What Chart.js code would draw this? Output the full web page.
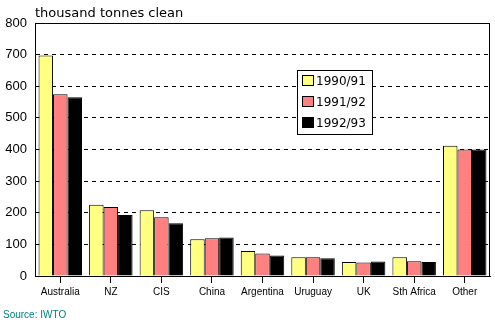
<!DOCTYPE html>
<html>
<head>
<meta charset="utf-8">
<script src="https://cdn.jsdelivr.net/npm/chart.js@4/dist/chart.umd.min.js"></script>
<style>
  html, body { margin: 0; padding: 0; background: #fff; }
  #wrap { width: 495px; height: 322px; }
</style>
</head>
<body>
<div id="wrap"><canvas id="chart" width="495" height="322"></canvas></div>
<script>
// wool production data, thousand tonnes clean
const countries = ['Australia', 'NZ', 'CIS', 'China', 'Argentina', 'Uruguay', 'UK', 'Sth Africa', 'Other'];
const seasons = ['1990/91', '1991/92', '1992/93'];
const y1990 = [697, 225, 208, 116, 79, 59, 44, 59, 412];
const y1991 = [575, 218, 186, 119, 71, 59, 43, 47, 400];
const y1992 = [565, 193, 167, 122, 65, 56, 46, 44, 400];
const yTicks = [0, 100, 200, 300, 400, 500, 600, 700, 800];

const colours = ['#ffff80', '#ff8080', '#000000'];
const font = 'Liberation Sans, Arial, sans-serif';
const wideFont = 'DejaVu Sans, sans-serif';

// draws the title, source note, plot frame and the boxed legend
const extras = {
    id: 'extras',
    afterDraw(chart) {
        const ctx = chart.ctx;
        const a = chart.chartArea;
        ctx.save();
        ctx.strokeStyle = '#000';
        ctx.lineWidth = 1;
        ctx.strokeRect(Math.round(a.left) + 0.5, Math.round(a.top) + 0.5,
            Math.round(a.right - a.left) - 1, Math.round(a.bottom - a.top));

        ctx.fillStyle = '#000';
        ctx.font = '13px ' + wideFont;
        ctx.textBaseline = 'alphabetic';
        ctx.textAlign = 'left';
        ctx.fillText('thousand tonnes clean', 35, 17);

        ctx.fillStyle = '#008080';
        ctx.font = '10px ' + font;
        ctx.fillText('Source: IWTO', 3, 318);

        // legend
        const lx = 297.5, ly = 70.5, lw = 75, lh = 64;
        ctx.fillStyle = '#fff';
        ctx.fillRect(lx, ly, lw, lh);
        ctx.strokeStyle = '#000';
        ctx.strokeRect(lx, ly, lw, lh);
        ctx.font = '12px ' + wideFont;
        ctx.textBaseline = 'middle';
        chart.data.datasets.forEach((ds, i) => {
            const cy = 81 + i * 21;
            ctx.fillStyle = ds.backgroundColor;
            ctx.fillRect(302.5, cy - 5.5, 11, 10);
            ctx.strokeStyle = '#000';
            ctx.strokeRect(302.5, cy - 5.5, 11, 10);
            ctx.fillStyle = '#000';
            ctx.fillText(ds.label, 316, cy + 1);
        });
        ctx.restore();
    }
};

new Chart(document.getElementById('chart'), {
    type: 'bar',
    data: {
        labels: countries,
        datasets: [
            { label: seasons[0], data: y1990, backgroundColor: colours[0] },
            { label: seasons[1], data: y1991, backgroundColor: colours[1] },
            { label: seasons[2], data: y1992, backgroundColor: colours[2] }
        ].map(ds => Object.assign(ds, {
            borderColor: '#000',
            borderWidth: 1,
            categoryPercentage: 0.86,
            barPercentage: 1
        }))
    },
    options: {
        responsive: false,
        animation: false,
        layout: { padding: { top: 23, right: 5, bottom: 18, left: 0 } },
        plugins: {
            legend: { display: false },
            tooltip: { enabled: false }
        },
        scales: {
            x: {
                grid: {
                    offset: false,
                    drawOnChartArea: false,
                    color: '#000',
                    tickLength: 7
                },
                border: { color: '#000' },
                ticks: {
                    color: '#000',
                    font: { family: font, size: 10 },
                    maxRotation: 0,
                    autoSkip: false,
                    padding: 3
                },
                afterFit(scale) { scale.height = 28; }
            },
            y: {
                min: 0,
                max: 800,
                afterBuildTicks(scale) { scale.ticks = yTicks.map(v => ({ value: v })); },
                grid: {
                    color: '#000',
                    drawTicks: false
                },
                border: { color: '#000', dash: [4, 4] },
                ticks: {
                    color: '#000',
                    font: { family: font, size: 13 },
                    padding: 8
                },
                afterFit(scale) { scale.width = 35; }
            }
        }
    },
    plugins: [extras]
});
</script>
</body>
</html>
